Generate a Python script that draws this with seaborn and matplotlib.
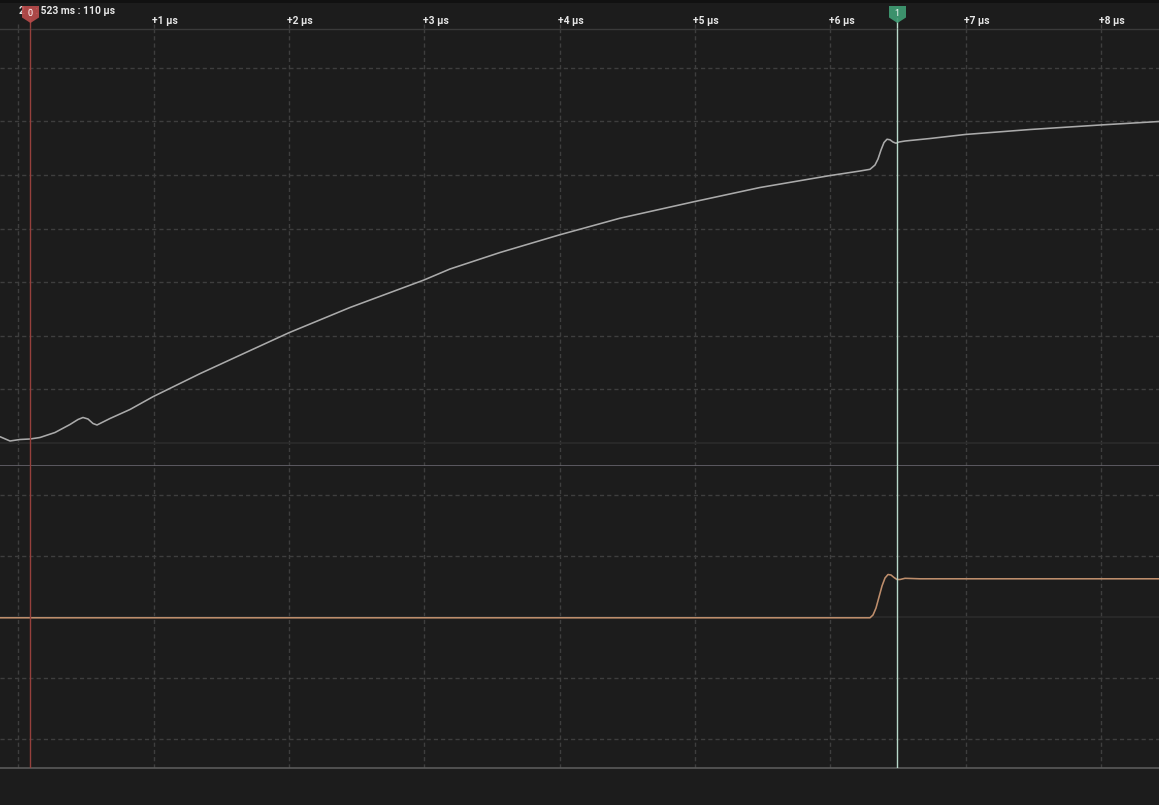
import numpy as np
import pandas as pd
import matplotlib
matplotlib.use("Agg")
import matplotlib.pyplot as plt
from matplotlib.path import Path
import seaborn as sns

# ---------------- data ----------------
# channel 1 (analog, upper) : time in µs relative to trigger, volts
ch1_time = [-0.1367, -0.0628, 0.0111, 0.0850, 0.1589, 0.2698, 0.3806, 0.4398, 0.4767,
            0.5137, 0.5506, 0.5802, 0.6245, 0.6763, 0.8241, 0.9941, 1.3415, 1.7110,
            1.9993, 2.4501, 2.9970, 3.1892, 3.5588, 3.9948, 4.4457, 4.9926, 5.4804,
            5.9904, 6.2195, 6.2934, 6.3304, 6.3526, 6.3747, 6.3969, 6.4191, 6.4413,
            6.4634, 6.4856, 6.5078, 6.5521, 6.7369, 6.9956, 7.4760, 7.9933, 8.4294]
ch1_volts = [0.0588, 0.0187, 0.0326, 0.0373, 0.0513, 0.0979, 0.1726, 0.2192, 0.2379,
             0.2239, 0.1819, 0.1679, 0.1959, 0.2285, 0.3125, 0.4319, 0.6470, 0.8619,
             1.0289, 1.2640, 1.5205, 1.6231, 1.7770, 1.9403, 2.0970, 2.2509, 2.3834,
             2.4934, 2.5373, 2.5531, 2.5933, 2.6493, 2.7332, 2.8032, 2.8339, 2.8283,
             2.8078, 2.7966, 2.8078, 2.8171, 2.8405, 2.8778, 2.9244, 2.9664, 2.9991]

# channel 2 (analog, lower)
ch2_time = [-0.1367, 6.2934, 6.3156, 6.3378, 6.3600, 6.3821, 6.4043, 6.4265, 6.4487,
            6.4708, 6.4930, 6.5152, 6.5521, 6.6630, 8.4294]
ch2_volts = [-0.013, -0.013, 0.0328, 0.1475, 0.3279, 0.5082, 0.6393, 0.6967, 0.6885,
             0.6475, 0.6148, 0.6148, 0.6344, 0.6262, 0.6262]

time_ticks = [0, 1, 2, 3, 4, 5, 6, 7, 8]
tick_labels = ["", "+1 µs", "+2 µs", "+3 µs", "+4 µs", "+5 µs", "+6 µs", "+7 µs", "+8 µs"]
header_text = "2 s : 523 ms : 110 µs"

ch1_grid = [0.5, 1.0, 1.5, 2.0, 2.5, 3.0, 3.5]
ch2_grid = [-2, -1, 1, 2]

cursor_names = ["0", "1"]
cursor_times = [0.085, 6.49]
cursor_colors = ["#b84b4b", "#3f9c74"]
cursor_line_colors = ["#96403c", "#b9d9ca"]

# ---------------- style ----------------
BG = "#1c1c1c"
GRID = "#3e3e3e"
sns.set_theme(style="dark")
plt.rcParams.update({
    "figure.facecolor": BG,
    "axes.facecolor": BG,
    "savefig.facecolor": BG,
})
plt.rcParams["font.family"] = ["Roboto", "DejaVu Sans"]

W, H = 1159, 805
fig = plt.figure(figsize=(W / 100, H / 100), dpi=100)

XMIN, XMAX = -0.1367, 8.4294


def px_axes(top, bottom):
    return fig.add_axes([0, 1 - bottom / H, 1, (bottom - top) / H])


ax_head = px_axes(0, 29)
ax1 = px_axes(29, 466)
ax2 = px_axes(466, 768)

for ax in (ax_head, ax1, ax2):
    ax.set_xlim(XMIN, XMAX)
    ax.set_xticks([])
    ax.set_yticks([])
    ax.grid(False)
    for s in ax.spines.values():
        s.set_visible(False)
    ax.set_facecolor(BG)

ax1.set_ylim(-0.2146, 3.862)
ax2.set_ylim(-2.4754, 2.4754)
ax_head.set_ylim(29, 0)

# top dark strip
ax_head.axhspan(0, 3, color="#111111", lw=0)

dash = (0, (3, 2.2))
# vertical grid
for ax in (ax1, ax2):
    for t in time_ticks:
        ax.axvline(t, color=GRID, lw=1, ls=dash, zorder=1)
for t in time_ticks:
    ax_head.plot([t, t], [24, 29], color=GRID, lw=1, ls=dash, zorder=1)

# horizontal grid
for v in ch1_grid:
    ax1.axhline(v, color=GRID, lw=1, ls=dash, zorder=1)
ax1.axhline(0, color="#2b2b2b", lw=1.2, zorder=1)
for v in ch2_grid:
    ax2.axhline(v, color=GRID, lw=1, ls=dash, zorder=1)
ax2.axhline(0, color="#2b2b2b", lw=1.2, zorder=1)

# separators
ax1.spines["top"].set_visible(True)
ax1.spines["top"].set_color("#3a3a3a")
ax1.spines["top"].set_linewidth(1)
ax1.spines["bottom"].set_visible(True)
ax1.spines["bottom"].set_color("#66646c")
ax1.spines["bottom"].set_linewidth(1.2)
ax2.spines["bottom"].set_visible(True)
ax2.spines["bottom"].set_color("#5a5a5a")
ax2.spines["bottom"].set_linewidth(1.2)

# traces
df1 = pd.DataFrame({"t": ch1_time, "v": ch1_volts})
df2 = pd.DataFrame({"t": ch2_time, "v": ch2_volts})
sns.lineplot(data=df1, x="t", y="v", ax=ax1, color="#aaaaaa", lw=1.15, sort=False,
             estimator=None, zorder=3)
sns.lineplot(data=df2, x="t", y="v", ax=ax2, color="#be8e6c", lw=1.15, sort=False,
             estimator=None, zorder=3)
for ax in (ax1, ax2):
    ax.set_xlabel("")
    ax.set_ylabel("")
    ax.set_xticks([])
    ax.set_yticks([])

# tick labels
for t, lab in zip(time_ticks, tick_labels):
    if lab:
        ax_head.text(t - 0.012, 21.5, lab, color="#e6e6e6", fontsize=7.4,
                     fontweight="bold", ha="left", va="center", zorder=4)
ax_head.text(0.005, 10.5, header_text, color="#e6e6e6", fontsize=7.4,
             fontweight="bold", ha="left", va="center", zorder=4)

# cursors
flag = Path([(-1, 1), (1, 1), (1, -0.35), (0, -1), (-1, -0.35), (-1, 1)],
            [Path.MOVETO, Path.LINETO, Path.LINETO, Path.LINETO, Path.LINETO, Path.CLOSEPOLY])
for name, t, c, lc in zip(cursor_names, cursor_times, cursor_colors, cursor_line_colors):
    for ax in (ax1, ax2):
        ax.axvline(t, color=lc, lw=1.0, zorder=5)
    ax_head.plot([t, t], [18, 29], color=lc, lw=1.0, zorder=5)
    ax_head.scatter([t], [14], marker=flag, s=150, color=c, alpha=0.92,
                    linewidths=0, zorder=6)
    ax_head.text(t, 13.2, name, color="white", fontsize=6.5, ha="center",
                 va="center", zorder=7)

fig.savefig("out.png", dpi=100, facecolor=BG)
